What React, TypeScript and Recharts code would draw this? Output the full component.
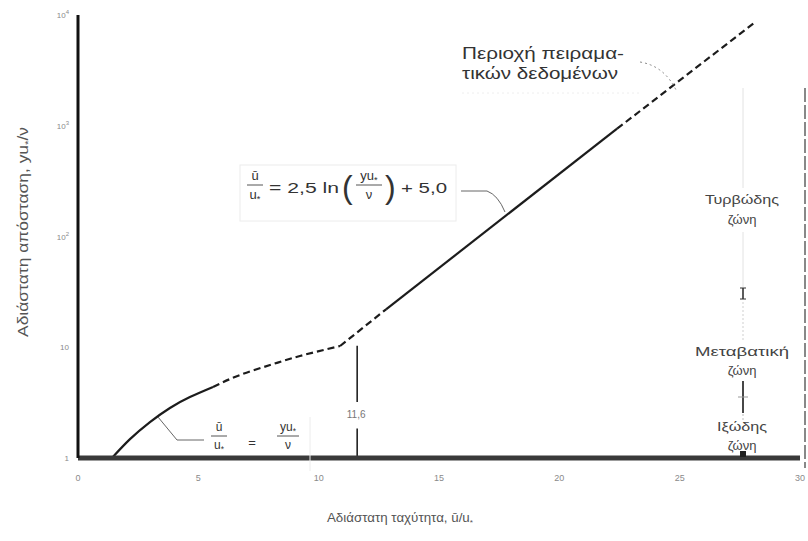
import { LineChart, Line, XAxis, YAxis, ReferenceLine } from "recharts"

const W = 808
const H = 541
// plot box (px)
const L = 78
const T = 15
const R = 800
const B = 458

const uTicks = [0, 5, 10, 15, 20, 25, 30]
const yTicks = [1, 10, 100, 1000, 10000]

// viscous sublayer, ū/u* = yu*/ν
const viscous = [
  { u: 1.41, y: 1 },
  { u: 2.16, y: 1.48 },
  { u: 2.99, y: 2.11 },
  { u: 3.82, y: 2.83 },
  { u: 4.65, y: 3.55 },
  { u: 5.61, y: 4.38 },
]
// buffer zone, dashed
const buffer = [
  { u: 5.61, y: 4.38 },
  { u: 6.73, y: 5.62 },
  { u: 7.98, y: 6.91 },
  { u: 9.22, y: 8.34 },
  { u: 10.89, y: 10.26 },
]
// log law: dashed start, solid middle, dashed (experimental range) end
const logLawLow = [
  { u: 10.89, y: 10.26 },
  { u: 12.8, y: 22 },
]
const logLaw = [
  { u: 12.8, y: 22 },
  { u: 22.4, y: 940 },
]
const logLawHigh = [
  { u: 22.4, y: 940 },
  { u: 28.1, y: 8500 },
]
const sublayerEdge = 11.6

const FONT = "'Liberation Sans', Arial, sans-serif"
const INK = "#1c1c1c"

const sx = (u: number) => L + (u / 30) * (R - L)

function XTick(props: any) {
  const { x, payload } = props
  return (
    <text x={x} y={B + 23} textAnchor="middle" fontSize={9} fill="#8a8a8a" fontFamily={FONT}>
      {payload.value}
    </text>
  )
}

function YTick(props: any) {
  const { y, payload } = props
  const v = payload.value as number
  const p = Math.round(Math.log10(v))
  return (
    <text x={L - 9} y={y + 3} textAnchor="end" fontSize={8} fill="#8a8a8a" fontFamily={FONT}>
      {p === 0 ? "1" : p === 1 ? "10" : (
        <>
          10<tspan dy={-4} fontSize={6}>{p}</tspan>
        </>
      )}
    </text>
  )
}

function Frac({ cx, top, num, den, w, size }: { cx: number; top: number; num: any; den: any; w: number; size: number }) {
  return (
    <g fontFamily={FONT} fontSize={size} fill="#333" textAnchor="middle">
      <text x={cx} y={top}>{num}</text>
      <line x1={cx - w / 2} x2={cx + w / 2} y1={top + 5} y2={top + 5} stroke="#555" strokeWidth={1} />
      <text x={cx} y={top + size + 6}>{den}</text>
    </g>
  )
}

const uStar = (
  <>
    u<tspan fontSize="70%" dy={3}>*</tspan>
  </>
)
const yuStar = (
  <>
    yu<tspan fontSize="70%" dy={3}>*</tspan>
  </>
)

function Overlay() {
  const x116 = sx(sublayerEdge)
  return (
    <svg width={W} height={H} style={{ position: "absolute", left: 0, top: 0, pointerEvents: "none" }}>
      {/* axis titles */}
      <text
        x={28}
        y={232}
        transform="rotate(-90 28 232)"
        textAnchor="middle"
        fontFamily={FONT}
        fontSize={14}
        fill="#555"
        textLength={210}
        lengthAdjust="spacingAndGlyphs"
      >
        Αδιάστατη απόσταση, yu<tspan fontSize={9} dy={3}>*</tspan>
        <tspan dy={-3}>/ν</tspan>
      </text>
      <text
        x={400}
        y={522}
        textAnchor="middle"
        fontFamily={FONT}
        fontSize={13}
        fill="#555"
        textLength={146}
        lengthAdjust="spacingAndGlyphs"
      >
        Αδιάστατη ταχύτητα, ū/u<tspan fontSize={8} dy={3}>*</tspan>
      </text>

      {/* 11,6 marker */}
      <rect x={x116 - 14} y={404} width={28} height={20} fill="#fff" />
      <text x={x116 - 1} y={418} textAnchor="middle" fontFamily={FONT} fontSize={10} fill="#777">
        11,6
      </text>

      {/* log-law formula box */}
      <rect x={240} y={165} width={216} height={56} fill="none" stroke="#ececec" />
      <Frac cx={255} top={180} num="ū" den={uStar} w={16} size={13} />
      <text x={269} y={193} fontFamily={FONT} fontSize={15} fill="#333" textLength={70} lengthAdjust="spacingAndGlyphs">
        = 2,5 ln
      </text>
      <text x={342} y={198} fontFamily={FONT} fontSize={32} fill="#333">
        (
      </text>
      <Frac cx={369} top={180} num={yuStar} den="ν" w={26} size={13} />
      <text x={385} y={198} fontFamily={FONT} fontSize={32} fill="#333">
        )
      </text>
      <text x={401} y={193} fontFamily={FONT} fontSize={15} fill="#333" textLength={46} lengthAdjust="spacingAndGlyphs">
        + 5,0
      </text>
      <path d="M461 191 L487 191 Q498 195 505 212" fill="none" stroke="#666" strokeWidth={1} />

      {/* viscous sublayer formula */}
      <line x1={310} x2={310} y1={417} y2={471} stroke="#ececec" />
      <Frac cx={219} top={431} num="ū" den={uStar} w={16} size={12} />
      <text x={252} y={447} textAnchor="middle" fontFamily={FONT} fontSize={13} fill="#333">
        =
      </text>
      <Frac cx={288} top={431} num={yuStar} den="ν" w={22} size={12} />
      <path d="M158 417 L177 440 L204 440" fill="none" stroke="#666" strokeWidth={1} />

      {/* experimental data note */}
      <g fontFamily={FONT} fontSize={16} fill="#333">
        <text x={462} y={59} textLength={162} lengthAdjust="spacingAndGlyphs">
          Περιοχή πειραμα-
        </text>
        <text x={462} y={79} textLength={156} lengthAdjust="spacingAndGlyphs">
          τικών δεδομένων
        </text>
      </g>
      <line x1={462} x2={640} y1={93} y2={93} stroke="#eeeeee" strokeDasharray="2 3" />
      <path d="M640 62 Q665 66 677 92" fill="none" stroke="#888" strokeWidth={1} strokeDasharray="2 3" />

      {/* zone labels on the right */}
      <line x1={743} x2={743} y1={88} y2={188} stroke="#e2e2e2" />
      <line x1={743} x2={743} y1={232} y2={287} stroke="#e2e2e2" />
      <g fontFamily={FONT} fontSize={13} fill="#444" textAnchor="middle">
        <text x={742} y={204} textLength={74} lengthAdjust="spacingAndGlyphs">Τυρβώδης</text>
        <text x={742} y={224}>ζώνη</text>
        <text x={742} y={356} textLength={94} lengthAdjust="spacingAndGlyphs">Μεταβατική</text>
        <text x={742} y={375}>ζώνη</text>
        <text x={742} y={431} textLength={50} lengthAdjust="spacingAndGlyphs">Ιξώδης</text>
        <text x={742} y={450}>ζώνη</text>
      </g>
      <g stroke="#333">
        <line x1={743} x2={743} y1={288} y2={299} strokeWidth={1.6} />
        <line x1={740} x2={746} y1={288} y2={288} />
        <line x1={740} x2={746} y1={299} y2={299} />
        <line x1={743} x2={743} y1={302} y2={342} stroke="#cfcfcf" strokeDasharray="2 2" />
        <line x1={743} x2={743} y1={381} y2={413} strokeWidth={1.8} />
        <line x1={738} x2={748} y1={397} y2={397} stroke="#999" />
        <line x1={743} x2={743} y1={414} y2={420} stroke="#bbb" strokeDasharray="2 2" />
      </g>
      <rect x={740} y={451} width={6} height={6} fill="#222" />

      {/* right edge of the frame */}
      <line x1={805} x2={805} y1={88} y2={468} stroke="#888" strokeWidth={2} strokeDasharray="14 3" />
    </svg>
  )
}

export default function App() {
  return (
    <div style={{ position: "absolute", left: 0, top: 0, width: W, height: H, background: "#fff" }}>
      <LineChart width={W} height={H} margin={{ top: T, right: W - R, bottom: H - B - 30, left: L - 50 }}>
        <XAxis
          type="number"
          dataKey="u"
          domain={[0, 30]}
          ticks={uTicks}
          allowDataOverflow
          height={30}
          tickLine={false}
          axisLine={{ stroke: "#3a3a3a", strokeWidth: 5 }}
          tick={<XTick />}
        />
        <YAxis
          type="number"
          dataKey="y"
          scale="log"
          domain={[1, 10000]}
          ticks={yTicks}
          allowDataOverflow
          width={50}
          tickLine={false}
          axisLine={{ stroke: "#111", strokeWidth: 3 }}
          tick={<YTick />}
        />
        <ReferenceLine segment={[{ x: sublayerEdge, y: 1 }, { x: sublayerEdge, y: 1.85 }]} stroke="#222" strokeWidth={1.6} />
        <ReferenceLine segment={[{ x: sublayerEdge, y: 3.2 }, { x: sublayerEdge, y: 10.3 }]} stroke="#222" strokeWidth={1.6} />
        <Line data={viscous} dataKey="y" type="natural" stroke={INK} strokeWidth={2.2} dot={false} isAnimationActive={false} />
        <Line data={buffer} dataKey="y" type="natural" stroke={INK} strokeWidth={2.2} strokeDasharray="7 4" dot={false} isAnimationActive={false} />
        <Line data={logLawLow} dataKey="y" type="linear" stroke={INK} strokeWidth={2.2} strokeDasharray="7 4" dot={false} isAnimationActive={false} />
        <Line data={logLaw} dataKey="y" type="linear" stroke={INK} strokeWidth={2.2} dot={false} isAnimationActive={false} />
        <Line data={logLawHigh} dataKey="y" type="linear" stroke={INK} strokeWidth={2.2} strokeDasharray="7 4" dot={false} isAnimationActive={false} />
      </LineChart>
      <Overlay />
    </div>
  )
}
